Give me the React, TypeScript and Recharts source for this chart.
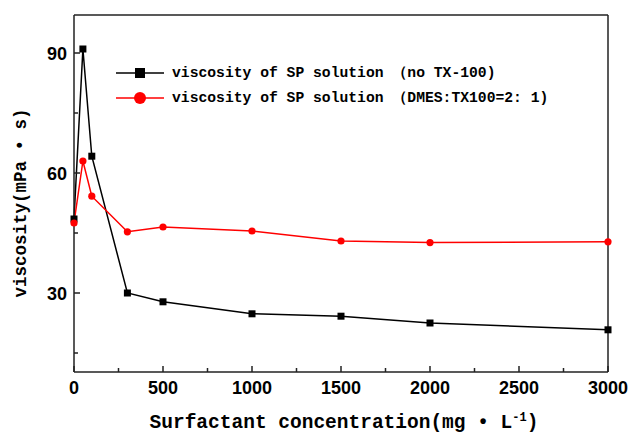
import React from 'react';
import { LineChart, Line, XAxis, YAxis, ReferenceLine } from 'recharts';

const concentration = [0, 50, 100, 300, 500, 1000, 1500, 2000, 3000];
const noTx = [48.5, 91, 64.2, 30, 27.8, 24.8, 24.2, 22.5, 20.8];
const withTx = [47.5, 63, 54.2, 45.3, 46.5, 45.5, 43, 42.6, 42.8];
const xTicks = [0, 250, 500, 750, 1000, 1250, 1500, 1750, 2000, 2250, 2500, 2750, 3000];
const yTicks = [15, 30, 45, 60, 75, 90];
const xMax = 3000;
const yMin = 10.25;
const yMax = 99.5;

const data = concentration.map((c, i) => ({ c, noTx: noTx[i], withTx: withTx[i] }));

const AXIS = '#222';
const MONO = '"Liberation Mono", "DejaVu Sans Mono", monospace';
const SANS = '"Liberation Sans", Arial, sans-serif';

const XTick = (props: any) => {
  const { x, y, payload } = props;
  const major = payload.value % 500 === 0;
  return (
    <g>
      <line x1={x} x2={x} y1={y} y2={y - (major ? 6 : 4)} stroke={AXIS} strokeWidth={1.5} />
      {major && (
        <text x={x} y={y + 22} textAnchor="middle" fontFamily={SANS} fontWeight="bold" fontSize={18} fill="#000">
          {payload.value}
        </text>
      )}
    </g>
  );
};

const YTick = (props: any) => {
  const { x, y, payload } = props;
  const major = payload.value % 30 === 0;
  return (
    <g>
      <line x1={x} x2={x + (major ? 6 : 4)} y1={y} y2={y} stroke={AXIS} strokeWidth={1.5} />
      {major && (
        <text x={x - 7} y={y + 6.5} textAnchor="end" fontFamily={SANS} fontWeight="bold" fontSize={18} fill="#000">
          {payload.value}
        </text>
      )}
    </g>
  );
};

const SquareDot = (props: any) => {
  const { cx, cy } = props;
  return <rect x={cx - 3.5} y={cy - 3.5} width={7} height={7} fill="#000" />;
};

const CircleDot = (props: any) => {
  const { cx, cy } = props;
  return <circle cx={cx} cy={cy} r={3.6} fill="#ff0000" />;
};

const XTitle = () => (
  <text x={344} y={428} textAnchor="middle" fontFamily={MONO} fontWeight="bold" fontSize={19.5} fill="#000">
    Surfactant concentration(mg • L
    <tspan dy={-7} fontSize={12}>-1</tspan>
    <tspan dy={7}>)</tspan>
  </text>
);

const YTitle = () => (
  <text
    x={26}
    y={203}
    textAnchor="middle"
    transform="rotate(-90 26 203)"
    fontFamily={MONO}
    fontWeight="bold"
    fontSize={17.5}
    fill="#000"
  >
    viscosity(mPa • s)
  </text>
);

const legendItems = [
  { label: 'viscosity of SP solution （no TX-100)', color: '#000', shape: 'square' },
  { label: 'viscosity of SP solution （DMES:TX100=2: 1)', color: '#ff0000', shape: 'circle' },
];

const App = () => {
  return (
    <div style={{ position: 'absolute', left: 0, top: 0, width: 630, height: 434, background: '#fff' }}>
      <LineChart width={630} height={434} data={data} margin={{ top: 15, right: 22, bottom: 0, left: 0 }}>
        <XAxis
          dataKey="c"
          type="number"
          domain={[0, xMax]}
          ticks={xTicks}
          interval={0}
          height={62}
          tickSize={0}
          tickMargin={0}
          tickLine={false}
          tick={<XTick />}
          axisLine={{ stroke: AXIS, strokeWidth: 1.5 }}
          label={{ content: () => <XTitle /> }}
        />
        <YAxis
          type="number"
          domain={[yMin, yMax]}
          ticks={yTicks}
          interval={0}
          width={74}
          tickSize={0}
          tickMargin={0}
          tickLine={false}
          tick={<YTick />}
          allowDataOverflow
          axisLine={{ stroke: AXIS, strokeWidth: 1.5 }}
          label={{ content: () => <YTitle /> }}
        />
        <ReferenceLine x={xMax} stroke={AXIS} strokeWidth={1.5} />
        <ReferenceLine y={yMax} stroke={AXIS} strokeWidth={1.5} />
        <Line
          dataKey="noTx"
          type="linear"
          stroke="#000"
          strokeWidth={1.5}
          dot={<SquareDot />}
          activeDot={false}
          isAnimationActive={false}
        />
        <Line
          dataKey="withTx"
          type="linear"
          stroke="#ff0000"
          strokeWidth={1.5}
          dot={<CircleDot />}
          activeDot={false}
          isAnimationActive={false}
        />
      </LineChart>
      <div style={{ position: 'absolute', left: 116, top: 60, fontFamily: MONO, fontWeight: 'bold', fontSize: 14.7 }}>
        {legendItems.map((item) => (
          <div key={item.label} style={{ display: 'flex', alignItems: 'center', height: 25 }}>
            <svg width={48} height={14}>
              <line x1={0} x2={48} y1={7} y2={7} stroke={item.color} strokeWidth={1.5} />
              {item.shape === 'square' ? (
                <rect x={19} y={2} width={10} height={10} fill={item.color} />
              ) : (
                <circle cx={24} cy={7} r={6} fill={item.color} />
              )}
            </svg>
            <span style={{ marginLeft: 8, whiteSpace: 'pre' }}>{item.label}</span>
          </div>
        ))}
      </div>
    </div>
  );
};

export default App;
